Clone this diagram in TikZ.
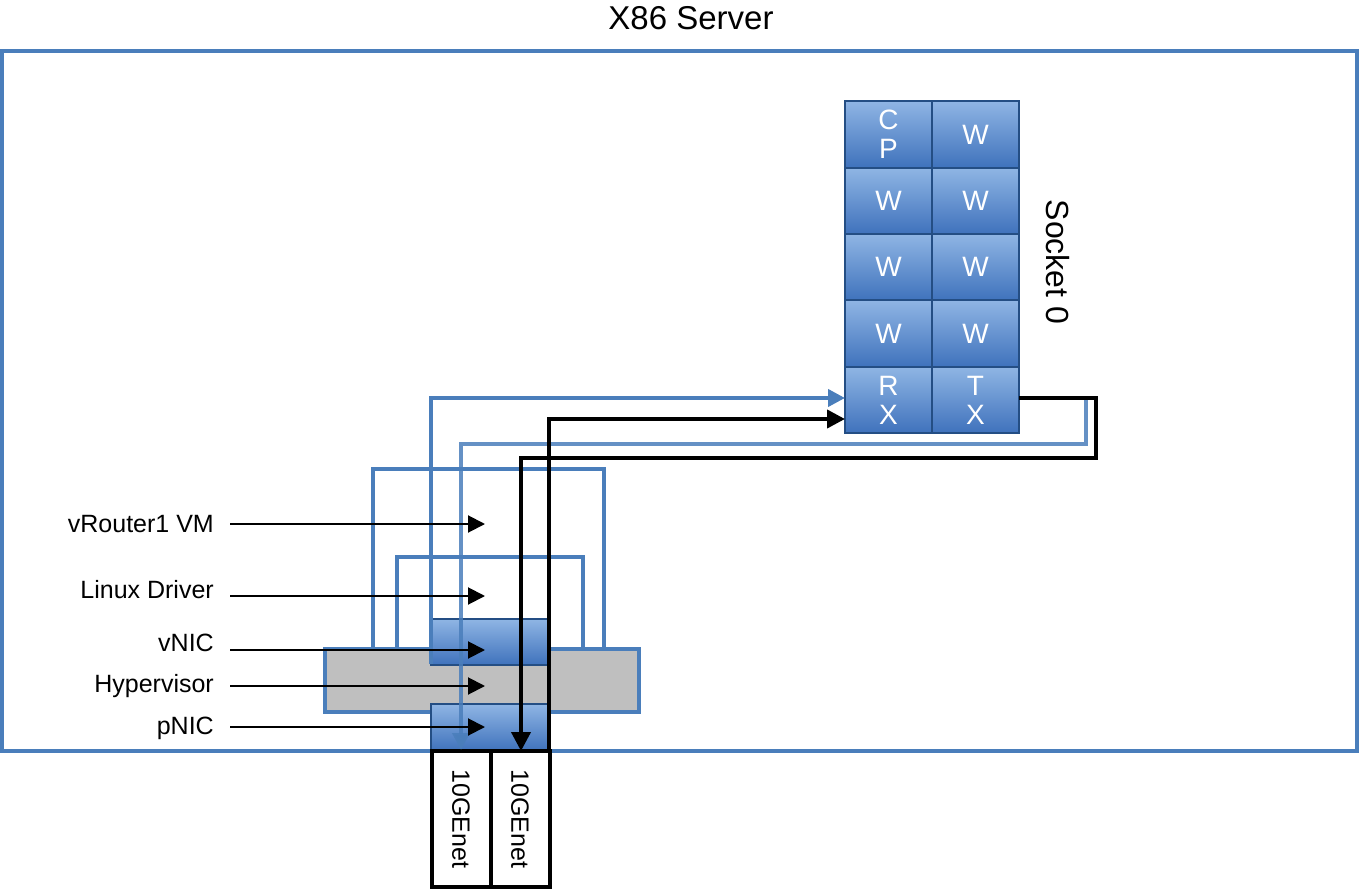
\documentclass[tikz,border=0pt]{standalone}
\usepackage{fontspec}
\setmainfont{Liberation Sans}
\usetikzlibrary{arrows.meta}
\definecolor{lineblue}{RGB}{74,126,187}
\definecolor{celltop}{RGB}{143,181,228}
\definecolor{cellbot}{RGB}{63,114,188}
\definecolor{cellborder}{RGB}{36,78,132}
\definecolor{hypgray}{RGB}{191,191,191}
\tikzset{
  cell/.style={top color=celltop, bottom color=cellbot, draw=cellborder, line width=1.8pt,
    minimum width=87pt, minimum height=66.4pt, inner sep=0pt, text=white, align=center,
    font=\fontsize{28}{29}\selectfont},
  nicbox/.style={top color=celltop, bottom color=cellbot, draw=cellborder, line width=1.4pt},
  bline/.style={draw=lineblue, line width=4pt},
  kline/.style={draw=black, line width=4pt},
  lbl/.style={anchor=east, inner sep=0pt, font=\fontsize{25}{25}\selectfont},
  larrow/.style={draw=black, line width=2pt, -{Triangle[length=17pt,width=17pt]}},
  portbox/.style={draw=black, line width=4pt, fill=white, minimum width=59pt, minimum height=136pt, inner sep=0pt},
}
\begin{document}
\begin{tikzpicture}[x=1pt,y=-1pt]
\useasboundingbox (0,0) rectangle (1359,890);
% title
\node[font=\fontsize{33}{33}\selectfont] (title) at (691,18) {X86 Server};
% server
\draw[lineblue, line width=4pt] (2,51) rectangle (1357,751);
% socket grid
\node[cell] (cp) at (888.5,134.5) {C\\P};
\node[cell] (w1) at (975.5,134.5) {W};
\node[cell] (w2) at (888.5,201) {W};
\node[cell] (w3) at (975.5,201) {W};
\node[cell] (w4) at (888.5,267.3) {W};
\node[cell] (w5) at (975.5,267.3) {W};
\node[cell] (w6) at (888.5,333.6) {W};
\node[cell] (w7) at (975.5,333.6) {W};
\node[cell] (rx) at (888.5,400) {R\\X};
\node[cell] (tx) at (975.5,400) {T\\X};
\node[rotate=-90, font=\fontsize{32}{32}\selectfont] (sock) at (1058,262) {Socket 0};
% hypervisor
\draw[lineblue, line width=3.5pt, fill=hypgray] (325,649) rectangle (639,712);
% brackets
\draw[bline] (373,649) -- (373,469) -- (604,469) -- (604,649);
\draw[bline] (397,649) -- (397,557) -- (583,557) -- (583,649);
% NIC column
\shade[nicbox] (431,619) rectangle (549,665);
\shade[nicbox] (431,704) rectangle (549,751);
% ports
\node[portbox] (p1) at (461,819) {};
\node[portbox] (p2) at (520,819) {};
\node[rotate=-90, font=\fontsize{25}{25}\selectfont] at (p1) {10GEnet};
\node[rotate=-90, font=\fontsize{25}{25}\selectfont] at (p2) {10GEnet};
% blue paths
\coordinate (rxb) at (845,398);
\coordinate (rxk) at (845,419);
\draw[bline, -{Triangle[length=17pt,width=17pt]}] (431,664) -- (431,398) -- (rxb);
\draw[bline, opacity=0.85, -{Triangle[length=17pt,width=17pt]}] (1019,398) -- (1086,398) -- (1086,444) -- (461,444) -- (461,750);
% black paths
\draw[kline, -{Triangle[length=18pt,width=18pt]}] (549,751) -- (549,419) -- (rxk);
\draw[kline, -{Triangle[length=19pt,width=19pt]}] (1019,398) -- (1096,398) -- (1096,458) -- (521,458) -- (521,751);
% labels
\node[lbl] (l1) at (214,524) {vRouter1 VM};
\node[lbl] (l2) at (214,590) {Linux Driver};
\node[lbl] (l3) at (214,643) {vNIC};
\node[lbl] (l4) at (214,686) {Hypervisor};
\node[lbl] (l5) at (214,728) {pNIC};
\coordinate (t1) at (485,524);
\coordinate (t2) at (485,596);
\coordinate (t3) at (485,650);
\coordinate (t4) at (485,686);
\coordinate (t5) at (485,727);
\draw[larrow] (230,524) -- (t1);
\draw[larrow] (230,596) -- (t2);
\draw[larrow] (230,650) -- (t3);
\draw[larrow] (230,686) -- (t4);
\draw[larrow] (230,727) -- (t5);
\end{tikzpicture}
\end{document}
